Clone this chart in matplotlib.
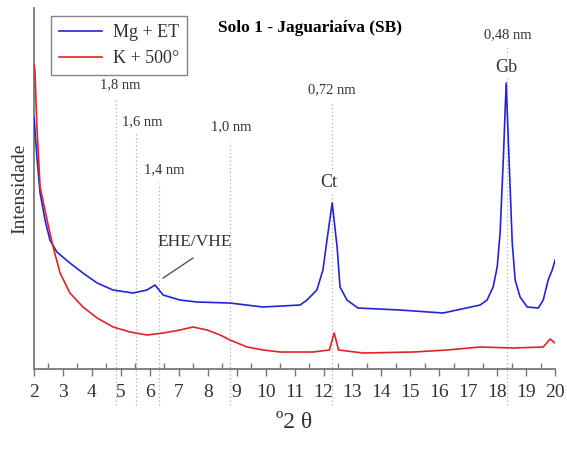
import matplotlib
matplotlib.use("Agg")
import matplotlib.pyplot as plt
from matplotlib.ticker import MultipleLocator

plt.rcParams['font.family'] = ['Liberation Serif', 'DejaVu Serif']

# Mg + ET (azul)
mg_x = [2.00, 2.10, 2.21, 2.38, 2.55, 2.79, 3.24, 3.69, 4.18, 4.73, 5.42, 5.90, 6.18,
        6.46, 7.04, 7.63, 8.77, 9.91, 11.19, 11.43, 11.77, 11.98, 12.12, 12.30, 12.47,
        12.57, 12.81, 13.19, 14.64, 16.13, 17.41, 17.65, 17.86, 18.00, 18.10, 18.21,
        18.31, 18.41, 18.52, 18.62, 18.79, 19.04, 19.42, 19.59, 19.76, 19.90, 20.00]
mg_y = [252, 212, 176, 149, 129, 117, 106, 96, 86, 79, 76, 79, 84,
        74, 69, 67, 66, 62, 64, 69, 79, 99, 129, 166, 122,
        82, 69, 61, 59, 56, 64, 69, 82, 102, 136, 209,
        286, 209, 126, 89, 72, 62, 61, 69, 89, 99, 109]

# K + 500° (vermelho)
k_x = [2.00, 2.03, 2.10, 2.21, 2.45, 2.66, 2.90, 3.24, 3.69, 4.18, 4.73, 5.32, 5.90,
       6.46, 7.04, 7.49, 7.98, 8.43, 8.77, 9.36, 9.91, 10.50, 11.64, 12.20, 12.37,
       12.52, 13.37, 15.10, 16.27, 17.41, 18.55, 19.59, 19.83, 20.00]
k_y = [304, 299, 242, 182, 149, 122, 96, 76, 62, 51, 42, 37, 34,
       36, 39, 42, 39, 34, 29, 22, 19, 17, 17, 19, 36,
       19, 16, 17, 19, 22, 21, 22, 30, 26]

# Reflexoes
d_labels = ['1,8 nm', '1,6 nm', '1,4 nm', '1,0 nm', '0,72 nm', '0,48 nm']
d_pos = [4.83, 5.52, 6.33, 8.78, 12.28, 18.34]

fig = plt.figure(figsize=(5.67, 4.5), dpi=100)
ax = fig.add_axes([0.06, 0.18, 0.919, 0.802])

blue = '#2424d6'
red = '#e02424'
txt = '#333333'
gray = '#777777'

ax.plot(mg_x, mg_y, color=blue, lw=1.2, label='Mg + ET', zorder=3)
ax.plot(k_x, k_y, color=red, lw=1.2, label='K + 500°', zorder=3)

# linhas pontilhadas e rotulos
line_tops = [271, 236, 186, 227, 267, 322]
label_xy = [(4.98, 284), (5.74, 247), (6.5, 199), (8.82, 242), (12.3, 279), (18.36, 334)]
for d, xp, top, (lx, ly) in zip(d_labels, d_pos, line_tops, label_xy):
    ax.vlines(xp, -36, top, colors='#b0b0b0', linestyles=(0, (1, 2)), lw=0.9,
              clip_on=False, zorder=1)
    ax.text(lx, ly, d, ha='center', va='center', fontsize=10.5, color=txt)

ax.text(12.19, 187, 'Ct', ha='center', va='center', fontsize=13, color=txt,
        bbox=dict(fc='white', ec='none', pad=1), zorder=2)
ax.text(18.31, 302, 'Gb', ha='center', va='center', fontsize=13, color=txt,
        bbox=dict(fc='white', ec='none', pad=1), zorder=2)
ax.text(7.56, 127, 'EHE/VHE', ha='center', va='center', fontsize=12.5, color=txt)
ax.plot([6.46, 7.49], [91, 111], color='#555555', lw=1.0, zorder=2)

ax.text(0.53, 0.944, 'Solo 1 - Jaguariaíva (SB)', transform=ax.transAxes,
        ha='center', va='center', fontsize=12.5, fontweight='bold', color='black')

ax.set_xlim(2, 20)
ax.set_ylim(0, 361)
ax.set_xticks(range(2, 21))
ax.xaxis.set_minor_locator(MultipleLocator(0.5))
ax.set_yticks([])
ax.tick_params(axis='x', which='major', direction='out', length=5, width=1,
               color=gray, labelsize=14, labelcolor=txt, pad=6)
ax.tick_params(axis='x', which='minor', direction='in', length=4, width=1, color=gray)

for s in ['top', 'right']:
    ax.spines[s].set_visible(False)
ax.spines['left'].set_color(gray)
ax.spines['bottom'].set_color(gray)
ax.spines['left'].set_linewidth(1.3)
ax.spines['bottom'].set_linewidth(1.3)

ax.set_xlabel('º2 θ', fontsize=17, color=txt, labelpad=8)
ax.set_ylabel('Intensidade', fontsize=14, color=txt, labelpad=4)

leg = ax.legend(loc='upper left', bbox_to_anchor=(0.015, 1.003), fontsize=13,
                frameon=True, fancybox=False, edgecolor='#666666', handlelength=2.4,
                handletextpad=0.6, borderpad=0.45, labelspacing=0.5)
leg.get_frame().set_linewidth(1.0)
for t in leg.get_texts():
    t.set_color(txt)

fig.savefig('out.png', dpi=100)
